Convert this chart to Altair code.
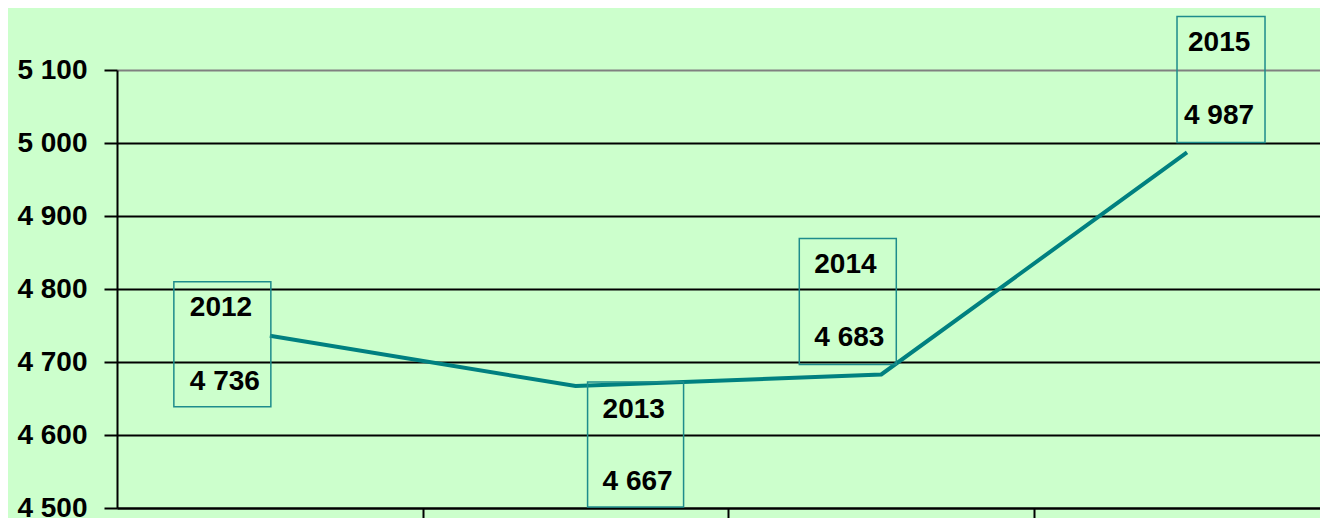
import altair as alt
import pandas as pd

# ---- data ----
years = ["2012", "2013", "2014", "2015"]
values = [4736, 4667, 4683, 4987]
y_ticks = [4500, 4600, 4700, 4800, 4900, 5000, 5100]

df = pd.DataFrame({"year": years, "value": values, "idx": list(range(len(years)))})
df["label"] = df["value"].map(lambda v: f"{v:,}".replace(",", " "))

# ---- styling / label placement (pixel offsets from each point) ----
TEAL = "#008080"
BOX = "#1E8C8C"
FONT = "Liberation Sans"
FS = 28
# (box dx0, dx1, dy0, dy1, year text dx, year dy, value text dx, value dy)
placement = [
    (-96, 1, -54, 71, -80, -28, -80, 46),
    (12, 108, -4, 121, 27, 24, 27, 96),
    (-82, 15, -136, -10, -67, -109, -67, -36),
    (-10, 78, -136, -10, 1, -109, -3, -36),
]

x_scale = alt.Scale(domain=[-0.5, 3.435], nice=False, zero=False)
y_scale = alt.Scale(domain=[4500, 5100], nice=False, zero=False)

x_axis = alt.Axis(values=[i + 0.5 for i in range(len(years) - 1)], labels=False, title=None,
                  grid=False, domainColor="black", domainWidth=2, tickColor="black",
                  tickWidth=2, tickSize=12)
y_axis = alt.Axis(values=y_ticks, title=None,
                  labelExpr="replace(format(datum.value, ','), ',', ' ')",
                  labelFont=FONT, labelFontSize=FS, labelFontWeight="bold", labelColor="black",
                  labelPadding=17, tickSize=13, tickColor="black", tickWidth=2,
                  domainColor="black", domainWidth=2, grid=True,
                  gridColor=alt.condition("datum.value == 5100", alt.value("#808080"), alt.value("black")),
                  gridWidth=2, gridOpacity=1)

x_enc = alt.X("idx:Q", scale=x_scale, axis=x_axis)
y_enc = alt.Y("value:Q", scale=y_scale, axis=y_axis)

base = alt.Chart(df)
layers = [base.mark_line(color=TEAL, strokeWidth=4).encode(x=x_enc, y=y_enc)]

for i, (bx0, bx1, by0, by1, tdx, tdy, vdx, vdy) in enumerate(placement):
    sub = base.transform_filter(alt.datum.idx == i)
    layers.append(
        sub.mark_rect(fill="transparent", stroke=BOX, strokeWidth=1.5,
                      xOffset=bx0, x2Offset=bx1, yOffset=by0, y2Offset=by1)
        .encode(x=x_enc, x2=alt.X2("idx:Q"), y=y_enc, y2=alt.Y2("value:Q"))
    )
    layers.append(
        sub.mark_text(align="left", baseline="middle", dx=tdx, dy=tdy, font=FONT,
                      fontSize=FS, fontWeight="bold", color="black")
        .encode(x=x_enc, y=y_enc, text="year:N")
    )
    layers.append(
        sub.mark_text(align="left", baseline="middle", dx=vdx, dy=vdy, font=FONT,
                      fontSize=FS, fontWeight="bold", color="black")
        .encode(x=x_enc, y=y_enc, text="label:N")
    )

chart = (
    alt.layer(*layers)
    .properties(width=1203, height=438,
                padding={"left": 109, "top": 62, "right": 0, "bottom": 10},
                autosize=alt.AutoSizeParams(type="none"))
    .configure(background="#CCFFCC")
    .configure_view(stroke=None)
)

chart.save("out.html", embed_options={"renderer": "svg", "actions": False})
